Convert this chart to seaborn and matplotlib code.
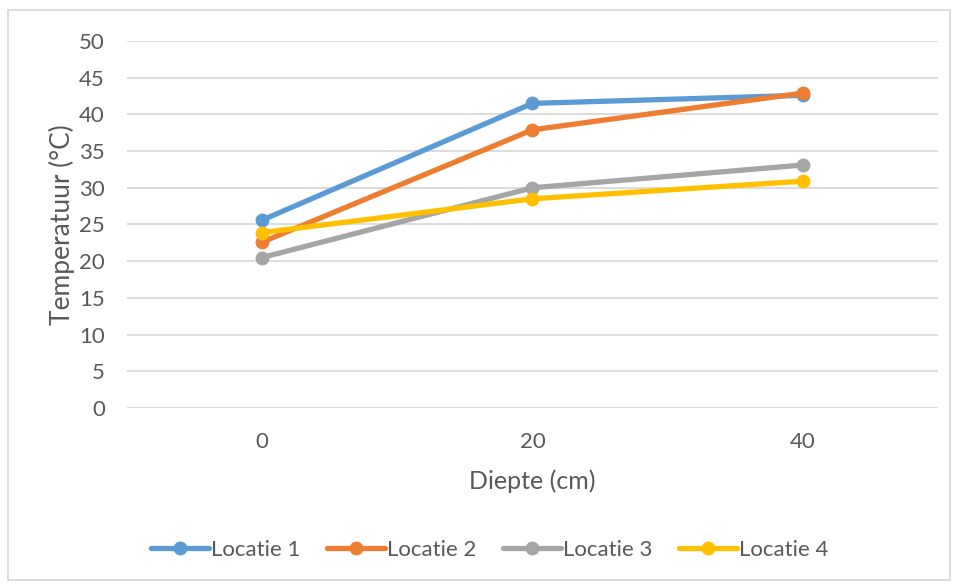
import matplotlib
matplotlib.use("Agg")
import matplotlib.pyplot as plt
from matplotlib.patches import Rectangle
import seaborn as sns
import pandas as pd

diepte = ["0", "20", "40"]
locatie_1 = [25.6, 41.5, 42.6]
locatie_2 = [22.6, 37.9, 42.9]
locatie_3 = [20.5, 30.0, 33.1]
locatie_4 = [23.9, 28.5, 30.9]
series_names = ["Locatie 1", "Locatie 2", "Locatie 3", "Locatie 4"]
colors = ["#5B9BD5", "#ED7D31", "#A5A5A5", "#FFC000"]
y_ticks = [0, 5, 10, 15, 20, 25, 30, 35, 40, 45, 50]

rows = []
for name, vals in zip(series_names, [locatie_1, locatie_2, locatie_3, locatie_4]):
    for d, v in zip(diepte, vals):
        rows.append({"Diepte": d, "Temperatuur": v, "Locatie": name})
df = pd.DataFrame(rows)

sns.set_style("white")
plt.rcParams["font.family"] = ["Lato", "DejaVu Sans"]

fig = plt.figure(figsize=(9.57, 5.84), dpi=100)
ax = fig.add_axes([0.1327, 0.3014, 0.8473, 0.6284])

sns.lineplot(data=df, x="Diepte", y="Temperatuur", hue="Locatie",
             palette=colors, marker="o", markersize=10, markeredgewidth=0,
             linewidth=3.8, ax=ax, legend=False, sort=False)

ax.set_xlim(-0.5, 2.5)
ax.set_ylim(0, 50)
ax.set_yticks(y_ticks)
ax.yaxis.grid(True, color="#D9D9D9", linewidth=1.3)
ax.set_axisbelow(True)
for s in ax.spines.values():
    s.set_visible(False)
ax.tick_params(axis="both", length=0, labelsize=16, labelcolor="#595959")
ax.tick_params(axis="y", pad=16)
ax.tick_params(axis="x", pad=17)
ax.set_xlabel("Diepte (cm)", fontsize=18, color="#595959", labelpad=13)
ax.set_ylabel("Temperatuur (°C)", fontsize=19, color="#595959", labelpad=3)

handles = [plt.Line2D([], [], color=c, linewidth=3.8, marker="o", markersize=10,
                      markeredgewidth=0) for c in colors]
fig.legend(handles, series_names, loc="center", bbox_to_anchor=(0.512, 0.058),
           ncol=4, frameon=False, fontsize=16, labelcolor="#595959",
           handlelength=2.6, handletextpad=0.1, columnspacing=1.2)

fig.patches.append(Rectangle((8 / 957, 4 / 584), 942 / 957, 570 / 584,
                             transform=fig.transFigure, fill=False,
                             edgecolor="#D9D9D9", linewidth=1.3))

fig.savefig("out.png", dpi=100)
